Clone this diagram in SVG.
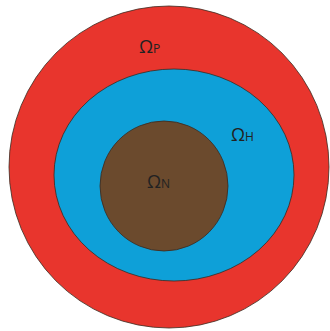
<svg xmlns="http://www.w3.org/2000/svg" width="330" height="331" viewBox="0 0 330 331">
<style>
.r{stroke:#3a2a20;stroke-width:0.8}
.t{font-family:"Open Sans","Liberation Sans",sans-serif;fill:#222;}
.o{font-size:18px}
.s{font-size:12px}
</style>
<rect width="330" height="331" fill="#fff"/>
<g id="omegaP">
<ellipse class="r" cx="169" cy="167" rx="160" ry="161" fill="#e8352d"/>
<text class="t" x="139" y="53"><tspan class="o">Ω</tspan><tspan class="s">P</tspan></text>
</g>
<g id="omegaH">
<ellipse class="r" cx="174" cy="175" rx="120" ry="106" fill="#0ea0d8"/>
<text class="t" x="231" y="141"><tspan class="o">Ω</tspan><tspan class="s">H</tspan></text>
</g>
<g id="omegaN">
<ellipse class="r" cx="164" cy="186" rx="64" ry="65" fill="#6b4a2d"/>
<text class="t" x="147" y="188"><tspan class="o">Ω</tspan><tspan class="s">N</tspan></text>
</g>
</svg>
